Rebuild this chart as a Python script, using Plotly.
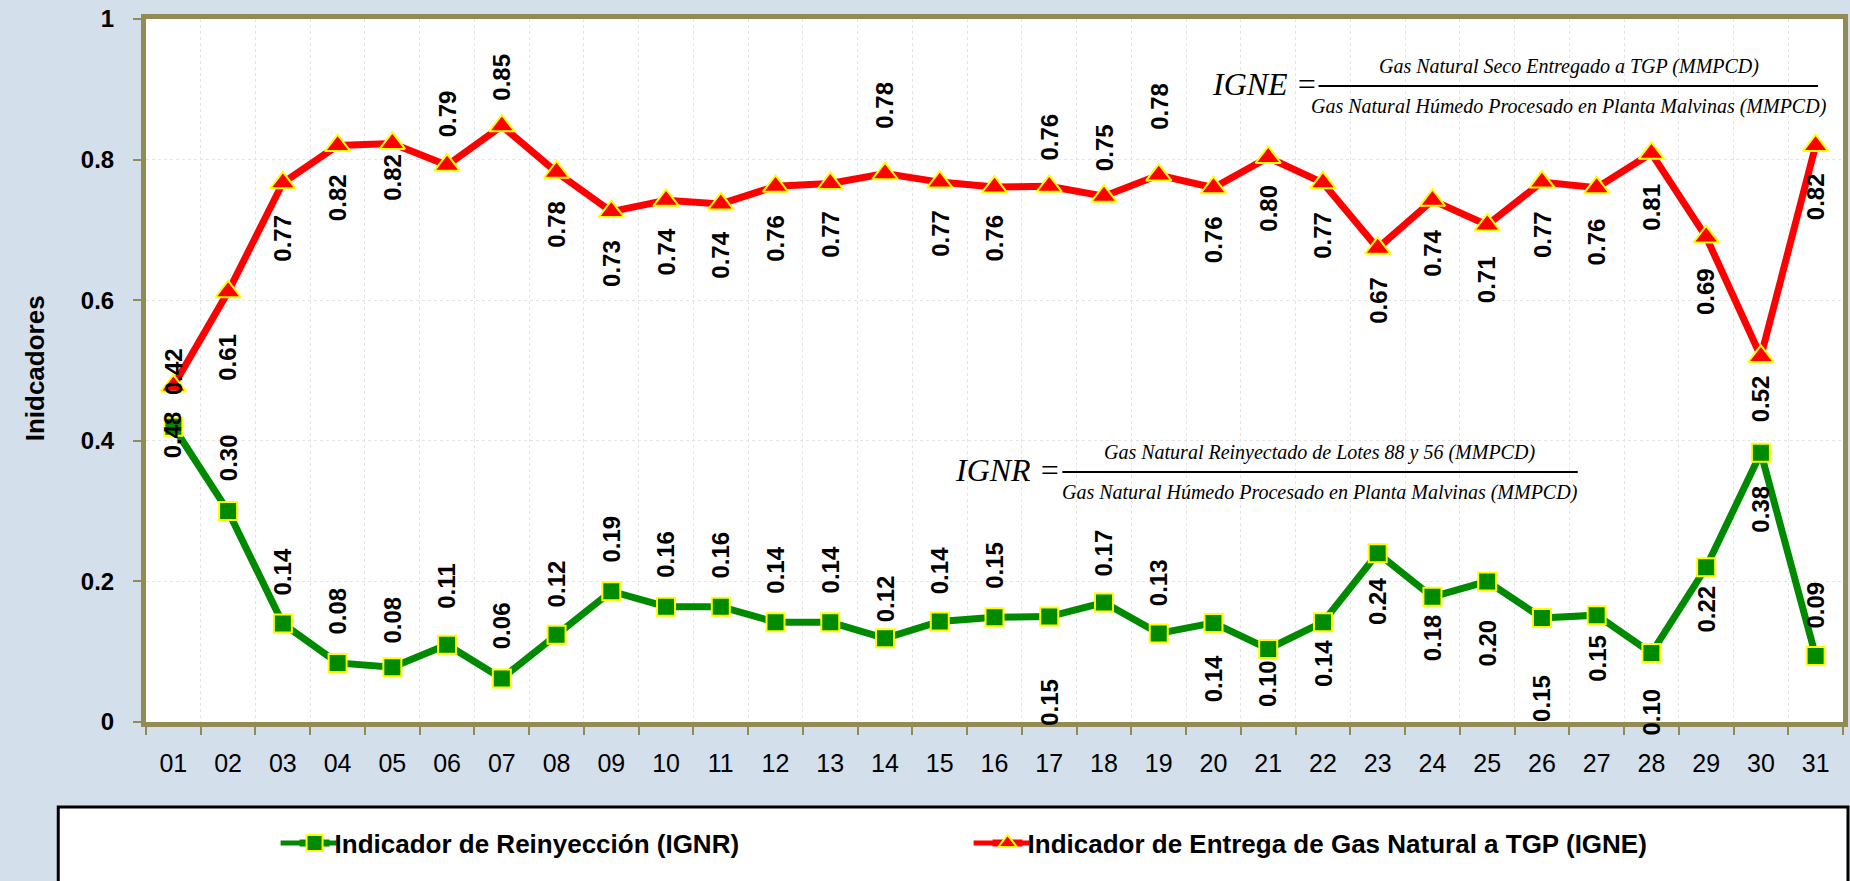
import plotly.graph_objects as go

# ---------------- data ----------------
days = [f"{d:02d}" for d in range(1, 32)]
ignr = [0.420, 0.300, 0.140, 0.084, 0.078, 0.110, 0.062, 0.124, 0.186, 0.164, 0.164,
        0.142, 0.142, 0.119, 0.143, 0.149, 0.150, 0.170, 0.126, 0.141, 0.104, 0.142,
        0.240, 0.178, 0.200, 0.148, 0.152, 0.098, 0.220, 0.383, 0.094]
igne = [0.478, 0.612, 0.767, 0.820, 0.823, 0.792, 0.848, 0.782, 0.726, 0.742, 0.737,
        0.762, 0.766, 0.780, 0.768, 0.761, 0.762, 0.748, 0.778, 0.760, 0.803, 0.767,
        0.674, 0.742, 0.707, 0.768, 0.760, 0.809, 0.690, 0.520, 0.820]
y_ticks = [0, 0.2, 0.4, 0.6, 0.8, 1]
y_tick_text = ["0", "0.2", "0.4", "0.6", "0.8", "1"]
name_ignr = "Indicador de Reinyección (IGNR)"
name_igne = "Indicador de Entrega de Gas Natural a TGP (IGNE)"
y_title = "Inidcadores"

# label offsets in px (positive = above the point) -- placement only
ignr_lbl_shift = [55, 53, 52, 52, 47, 58, 53, 51, 52, 52, 52, 52, 52, 39, 51, 52, -86, 50, 51,
                  -56, -35, -41, -48, -41, -62, -80, -43, -59, -42, -56, 51]
igne_lbl_shift = [-49, -66, -55, -52, -34, 51, 49, -52, -52, -52, -51, -52, -51, 68, -51, -51,
                  49, 49, 69, -52, -51, -52, -52, -53, -55, -52, -54, -54, -55, -42, -51]

# ---------------- layout geometry ----------------
W, H = 1850, 881
L, R, T, B = 146, 1848, 19, 722
PW, PH = R - L, B - T


def px(x):
    return (x - L) / PW


def py(y):
    return (B - y) / PH


FONT = "Liberation Sans, Arial, sans-serif"
SERIF = "Liberation Serif, Times New Roman, serif"
OLIVE = "#948A54"
GREEN = "#008A00"
RED = "#FF0000"
YELLOW = "#FFFF00"
LEG_Y = 843

fig = go.Figure()
fig.add_trace(go.Scatter(
    x=days, y=ignr, mode="lines+markers", name=name_ignr,
    line=dict(color=GREEN, width=7),
    marker=dict(symbol="square", size=18, color=GREEN, line=dict(color=YELLOW, width=2)),
    legend="legend", cliponaxis=False,
))
fig.add_trace(go.Scatter(
    x=days, y=igne, mode="lines+markers", name=name_igne,
    line=dict(color=RED, width=7),
    marker=dict(symbol="triangle-up", size=22, color=RED, line=dict(color=YELLOW, width=2)),
    legend="legend2", cliponaxis=False,
))

annotations = []
for i, (v, s) in enumerate(zip(ignr, ignr_lbl_shift)):
    annotations.append(dict(x=i, y=v, xref="x", yref="y", text=f"{v:.2f}", showarrow=False,
                            textangle=-90, yshift=s, xanchor="center", yanchor="middle",
                            font=dict(family=FONT, size=24, color="black", weight="bold")))
for i, (v, s) in enumerate(zip(igne, igne_lbl_shift)):
    annotations.append(dict(x=i, y=v, xref="x", yref="y", text=f"{v:.2f}", showarrow=False,
                            textangle=-90, yshift=s, xanchor="center", yanchor="middle",
                            font=dict(family=FONT, size=24, color="black", weight="bold")))

# y-axis title
annotations.append(dict(x=px(35), y=py(368), xref="paper", yref="paper", text=y_title,
                        showarrow=False, textangle=-90, xanchor="center", yanchor="middle",
                        font=dict(family=FONT, size=26, color="black", weight="bold")))


def formula(lhs, num, den, lhs_c, num_c, den_c, fsize, lsize):
    out = []
    out.append(dict(x=px(lhs_c[0]), y=py(lhs_c[1]), xref="paper", yref="paper",
                    text=f"<i>{lhs}</i>", showarrow=False, xanchor="center", yanchor="middle",
                    font=dict(family=SERIF, size=lsize, color="black")))
    out.append(dict(x=px(num_c[0]), y=py(num_c[1]), xref="paper", yref="paper",
                    text=f"<i>{num}</i>", showarrow=False, xanchor="center", yanchor="middle",
                    font=dict(family=SERIF, size=fsize, color="black")))
    out.append(dict(x=px(den_c[0]), y=py(den_c[1]), xref="paper", yref="paper",
                    text=f"<i>{den}</i>", showarrow=False, xanchor="center", yanchor="middle",
                    font=dict(family=SERIF, size=fsize, color="black")))
    return out


annotations += formula("IGNE =", "Gas Natural Seco Entregado a TGP (MMPCD)",
                       "Gas Natural Húmedo Procesado en Planta Malvinas (MMPCD)",
                       (1268, 84), (1573, 67), (1573, 106), 20, 32)
annotations += formula("IGNR =", "Gas Natural Reinyectado de Lotes 88 y 56 (MMPCD)",
                       "Gas Natural Húmedo Procesado en Planta Malvinas (MMPCD)",
                       (1010, 470), (1323, 452), (1323, 492), 20, 32)

shapes = [
    dict(type="rect", xref="paper", yref="paper", x0=px(1222), x1=px(1845), y0=py(124), y1=py(50),
         fillcolor="white", line=dict(width=0), layer="between"),
    dict(type="rect", xref="paper", yref="paper", x0=px(962), x1=px(1592), y0=py(508), y1=py(420),
         fillcolor="white", line=dict(width=0), layer="between"),
    dict(type="line", xref="paper", yref="paper", x0=px(1322), x1=px(1823), y0=py(86), y1=py(86),
         line=dict(color="black", width=2)),
    dict(type="line", xref="paper", yref="paper", x0=px(1065), x1=px(1582), y0=py(472), y1=py(472),
         line=dict(color="black", width=2)),
    # legend box
    dict(type="rect", xref="paper", yref="paper", x0=px(58), x1=px(1853), y0=py(884), y1=py(807),
         fillcolor="white", line=dict(color="black", width=3), layer="below"),
    # longer legend symbol lines (legend keys)
    dict(type="line", xref="paper", yref="paper", x0=px(281), x1=px(337), y0=py(LEG_Y), y1=py(LEG_Y),
         line=dict(color=GREEN, width=5), layer="above"),
    dict(type="line", xref="paper", yref="paper", x0=px(976), x1=px(1032), y0=py(LEG_Y), y1=py(LEG_Y),
         line=dict(color=RED, width=5), layer="above"),
]

fig.update_layout(
    width=W, height=H,
    margin=dict(l=L, r=W - R, t=T, b=H - B, pad=0),
    paper_bgcolor="#D3DFEB",
    plot_bgcolor="white",
    font=dict(family=FONT, color="black"),
    showlegend=True,
    legend=dict(x=px(295), y=py(LEG_Y), xanchor="left", yanchor="middle", orientation="h",
                bgcolor="rgba(0,0,0,0)", borderwidth=0,
                font=dict(family=FONT, size=26, color="black", weight="bold")),
    legend2=dict(x=px(990), y=py(LEG_Y), xanchor="left", yanchor="middle", orientation="h",
                 bgcolor="rgba(0,0,0,0)", borderwidth=0,
                 font=dict(family=FONT, size=26, color="black", weight="bold")),
    xaxis=dict(type="category", categoryorder="array", categoryarray=days,
               range=[-0.5, 30.5], tickson="boundaries", ticks="outside", ticklen=8,
               tickcolor=OLIVE, tickwidth=2, showgrid=True, gridcolor="#E4E4E4", griddash="dot",
               gridwidth=1, showline=True, linecolor=OLIVE, linewidth=5, mirror=True,
               tickfont=dict(family=FONT, size=25, color="black"), ticklabelstandoff=15,
               zeroline=False, fixedrange=True),
    yaxis=dict(range=[0, 1], tickvals=y_ticks, ticktext=y_tick_text, ticks="outside", ticklen=8,
               tickcolor=OLIVE, tickwidth=2, showgrid=True, gridcolor="#E4E4E4", griddash="dot",
               gridwidth=1, showline=True, linecolor=OLIVE, linewidth=5, mirror=True,
               tickfont=dict(family=FONT, size=24, color="black", weight="bold"),
               ticklabelstandoff=14, zeroline=False, fixedrange=True),
    annotations=annotations,
    shapes=shapes,
)

fig.write_html("out.html", config={"displayModeBar": False},
               post_script="document.body.style.margin='0';document.body.style.overflow='hidden';")
